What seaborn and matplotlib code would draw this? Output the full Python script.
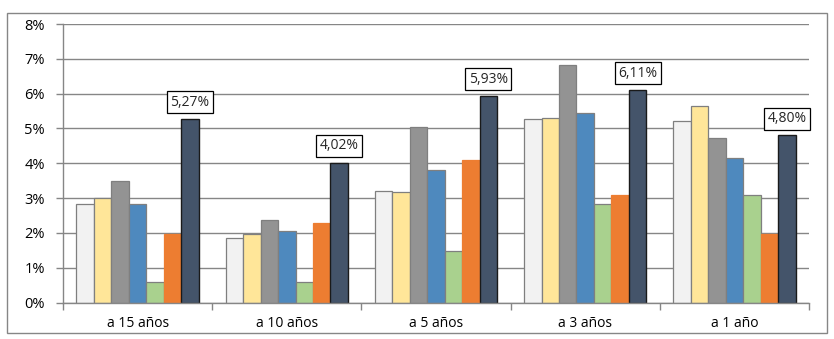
import matplotlib
matplotlib.use("Agg")
import matplotlib.pyplot as plt
import seaborn as sns
import pandas as pd
import numpy as np
from matplotlib.patches import Rectangle
from matplotlib.ticker import FuncFormatter, FixedLocator

categories = ["a 15 años", "a 10 años", "a 5 años", "a 3 años", "a 1 año"]
series_names = ["S1", "S2", "S3", "S4", "S5", "S6", "S7"]
s1 = [2.84, 1.84, 3.19, 5.26, 5.20]
s2 = [3.01, 1.98, 3.16, 5.29, 5.64]
s3 = [3.48, 2.36, 5.04, 6.82, 4.72]
s4 = [2.84, 2.04, 3.82, 5.44, 4.16]
s5 = [0.60, 0.60, 1.49, 2.84, 3.09]
s6 = [1.98, 2.29, 4.08, 3.10, 1.98]
s7 = [5.27, 4.02, 5.93, 6.11, 4.80]
label_texts = ["5,27%", "4,02%", "5,93%", "6,11%", "4,80%"]
y_ticks = [0, 1, 2, 3, 4, 5, 6, 7, 8]

colors = ["#F2F2F2", "#FFE699", "#939393", "#4E89BE", "#A9D18E", "#ED7D31", "#44546A"]

all_series = [s1, s2, s3, s4, s5, s6, s7]
rows = []
for name, vals in zip(series_names, all_series):
    for c, v in zip(categories, vals):
        rows.append({"cat": c, "serie": name, "val": v})
df = pd.DataFrame(rows)

sns.set_theme(style="white")
plt.rcParams["font.family"] = ["Open Sans", "DejaVu Sans"]

fig = plt.figure(figsize=(8.34, 3.39), dpi=100)
W, H = 834, 339
ax = fig.add_axes([63 / W, 1 - 302.5 / H, (809 - 63) / W, (302.5 - 24) / H])

sns.barplot(data=df, x="cat", y="val", hue="serie", palette=colors,
            order=categories, hue_order=series_names, width=0.82,
            ax=ax, legend=False, saturation=1, errorbar=None,
            edgecolor="#7F7F7F", linewidth=0.9)

# black edge for the last series
for p in ax.containers[6].patches:
    p.set_edgecolor("#1A1A1A")
    p.set_linewidth(1.0)
for p in ax.containers[5].patches:
    p.set_edgecolor("#ED7D31")

ax.set_ylim(0, 8)
ax.set_xlim(-0.5, len(categories) - 0.5)
ax.yaxis.set_major_locator(FixedLocator(y_ticks))
ax.yaxis.set_major_formatter(FuncFormatter(lambda v, p: f"{int(v)}%"))
ax.grid(axis="y", color="#868686", linewidth=1.0)
ax.set_axisbelow(True)
ax.set_xlabel("")
ax.set_ylabel("")

for s in ["top", "right"]:
    ax.spines[s].set_visible(False)
for s in ["left", "bottom"]:
    ax.spines[s].set_visible(True)
    ax.spines[s].set_color("#868686")
    ax.spines[s].set_linewidth(1.0)

ax.tick_params(axis="y", which="major", length=5, width=1, color="#868686",
               direction="out", labelsize=10.5, pad=8, labelcolor="#000000", left=True)
ax.tick_params(axis="x", which="major", length=0, labelsize=10, pad=10, labelcolor="#000000")
ax.set_xticks(np.arange(-0.5, len(categories) + 0.5, 1.0), minor=True)
ax.tick_params(axis="x", which="minor", length=5, width=1, color="#868686", direction="out", bottom=True)

for p, txt in zip(ax.containers[6].patches, label_texts):
    x = p.get_x() + p.get_width() / 2
    y = p.get_height()
    ax.annotate(txt, (x, y), xytext=(0, 12), textcoords="offset points",
                ha="center", va="center", fontsize=10,
                bbox=dict(boxstyle="square,pad=0.25", fc="white", ec="#000000", lw=0.9),
                annotation_clip=False)

fig.patches.append(Rectangle((7 / W, 1 - 333 / H), (827 - 7) / W, (333 - 13) / H,
                             transform=fig.transFigure, fill=False,
                             ec="#868686", lw=1.0))

fig.savefig("out.png", dpi=100)
